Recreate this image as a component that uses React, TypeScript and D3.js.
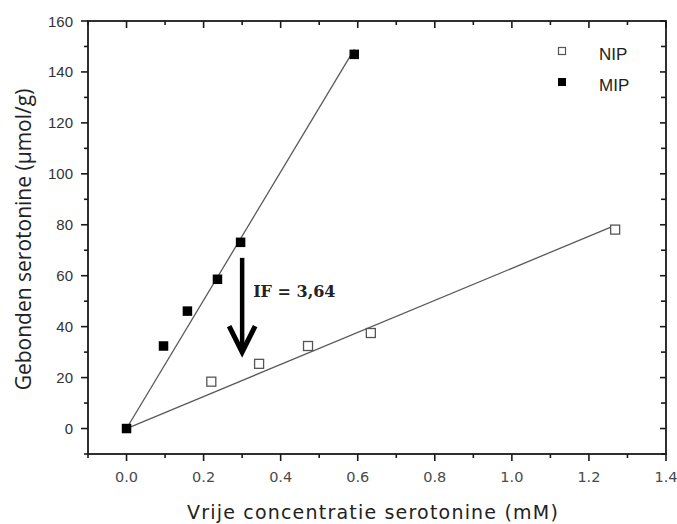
import { useEffect } from 'react';
import * as d3 from 'd3';

// Measured points (free concentration in mM, bound serotonin in µmol/g)
const mipX = [0, 0.096, 0.158, 0.236, 0.296, 0.591];
const mipY = [0, 32.4, 46.1, 58.6, 73.1, 146.9];
const nipX = [0.22, 0.344, 0.471, 0.634, 1.268];
const nipY = [18.4, 25.4, 32.4, 37.5, 78.1];

const xMajorTicks = [0, 0.2, 0.4, 0.6, 0.8, 1.0, 1.2, 1.4];
const xMinorTicks = [-0.1, 0.1, 0.3, 0.5, 0.7, 0.9, 1.1, 1.3];
const yMajorTicks = [0, 20, 40, 60, 80, 100, 120, 140, 160];
const yMinorTicks = [-10, 10, 30, 50, 70, 90, 110, 130, 150];

const legendItems = ['NIP', 'MIP'];

// annotation, in data units
const arrowX = 0.3;
const arrowTop = 67;
const arrowBottom = 30;
const ifLabel = 'IF = 3,64';
const ifLabelY = 51.5;

const width = 677;
const height = 524;
const margin = { top: 21, right: 11, bottom: 70, left: 88 };

// least squares line through the origin
const slopeThroughOrigin = (xs: number[], ys: number[]) =>
  d3.sum(xs, (x, i) => x * ys[i]) / d3.sum(xs, x => x * x);

export default function App() {
  useEffect(() => {
    document.body.style.margin = '0';
  }, []);

  const x = d3.scaleLinear().domain([-0.1, 1.4]).range([margin.left, width - margin.right]);
  const y = d3.scaleLinear().domain([-10, 160]).range([height - margin.bottom, margin.top]);

  const x0 = x.range()[0];
  const x1 = x.range()[1];
  const y0 = y.range()[0];
  const y1 = y.range()[1];

  const mipSlope = slopeThroughOrigin(mipX, mipY);
  const nipSlope = slopeThroughOrigin(nipX, nipY);
  const line = d3.line<[number, number]>().x(d => x(d[0])).y(d => y(d[1]));
  const mipFit: [number, number][] = [[0, 0], [d3.max(mipX)!, mipSlope * d3.max(mipX)!]];
  const nipFit: [number, number][] = [[0, 0], [d3.max(nipX)!, nipSlope * d3.max(nipX)!]];

  const axisColor = '#1a1a1a';
  const sansFont = '"Liberation Sans", Arial, sans-serif';

  const ax = x(arrowX);
  const aTop = y(arrowTop);
  const aBot = y(arrowBottom);

  return (
    <svg width={width} height={height} style={{ display: 'block', background: '#fff' }}>
      {/* fit lines */}
      <path d={line(mipFit)!} stroke="#5a5a5a" strokeWidth={1.3} fill="none" />
      <path d={line(nipFit)!} stroke="#5a5a5a" strokeWidth={1.3} fill="none" />

      {/* NIP open squares */}
      {nipX.map((v, i) => (
        <rect key={'n' + i} x={x(v) - 4.5} y={y(nipY[i]) - 4.5} width={9} height={9}
          fill="#fff" stroke="#555" strokeWidth={1.3} />
      ))}
      {/* MIP filled squares */}
      {mipX.map((v, i) => (
        <rect key={'m' + i} x={x(v) - 4.75} y={y(mipY[i]) - 4.75} width={9.5} height={9.5} fill="#000" />
      ))}

      {/* arrow annotation */}
      <line x1={ax} x2={ax} y1={aTop} y2={aBot - 2} stroke="#000" strokeWidth={4.5} />
      <path d={`M${ax - 13},${aBot - 26}L${ax},${aBot}L${ax + 13},${aBot - 26}`}
        stroke="#000" strokeWidth={5} fill="none" strokeLinejoin="miter" />
      <text x={ax + 11} y={y(ifLabelY)} fontFamily='"DejaVu Serif", serif' fontWeight="bold"
        fontSize={16} fill="#222">{ifLabel}</text>

      {/* frame */}
      <rect x={x0} y={y1} width={x1 - x0} height={y0 - y1} fill="none" stroke={axisColor} strokeWidth={1.8} />

      {/* bottom axis ticks (outward) and top ticks (inward) */}
      {xMajorTicks.map(t => (
        <g key={'xm' + t}>
          <line x1={x(t)} x2={x(t)} y1={y0} y2={y0 + 7} stroke={axisColor} strokeWidth={1.6} />
          <line x1={x(t)} x2={x(t)} y1={y1} y2={y1 + 7} stroke={axisColor} strokeWidth={1.6} />
          <text x={x(t)} y={y0 + 27.5} textAnchor="middle" fontFamily='"DejaVu Sans", Verdana, sans-serif'
            fontSize={14.5} fill="#4a4a4a">{d3.format('.1f')(t)}</text>
        </g>
      ))}
      {xMinorTicks.map(t => (
        <g key={'xn' + t}>
          <line x1={x(t)} x2={x(t)} y1={y0} y2={y0 + 4} stroke={axisColor} strokeWidth={1.6} />
          <line x1={x(t)} x2={x(t)} y1={y1} y2={y1 + 4} stroke={axisColor} strokeWidth={1.6} />
        </g>
      ))}

      {/* left axis ticks (outward) and right ticks (inward) */}
      {yMajorTicks.map(t => (
        <g key={'ym' + t}>
          <line x1={x0 - 7} x2={x0} y1={y(t)} y2={y(t)} stroke={axisColor} strokeWidth={1.6} />
          <line x1={x1 - 6} x2={x1} y1={y(t)} y2={y(t)} stroke={axisColor} strokeWidth={1.6} />
          <text x={x0 - 15} y={y(t) + 5.5} textAnchor="end" fontFamily={sansFont}
            fontSize={15} fill="#333">{t}</text>
        </g>
      ))}
      {yMinorTicks.map(t => (
        <g key={'yn' + t}>
          <line x1={x0 - 4} x2={x0} y1={y(t)} y2={y(t)} stroke={axisColor} strokeWidth={1.6} />
          <line x1={x1 - 5} x2={x1} y1={y(t)} y2={y(t)} stroke={axisColor} strokeWidth={1.6} />
        </g>
      ))}

      {/* legend */}
      {legendItems.map((name, i) => (
        <g key={name} transform={`translate(562, ${51 + i * 31})`}>
          {name === 'NIP'
            ? <rect x={-3.5} y={-3.5} width={7} height={7} fill="#fff" stroke="#555" strokeWidth={1.2} />
            : <rect x={-4} y={-4} width={8} height={8} fill="#000" />}
          <text x={37} y={8.5} fontFamily={sansFont} fontSize={17} fill="#222">{name}</text>
        </g>
      ))}

      {/* axis titles */}
      <text x={373} y={519} textAnchor="middle" fontFamily='"DejaVu Sans", Verdana, sans-serif'
        fontSize={19} letterSpacing={1.2} fill="#222">Vrije concentratie serotonine (mM)</text>
      <text transform={`translate(31, ${(y0 + y1) / 2 + 2}) rotate(-90)`} textAnchor="middle"
        fontFamily='"Open Sans", sans-serif' fontSize={21} fill="#222">Gebonden serotonine (µmol/g)</text>
    </svg>
  );
}
